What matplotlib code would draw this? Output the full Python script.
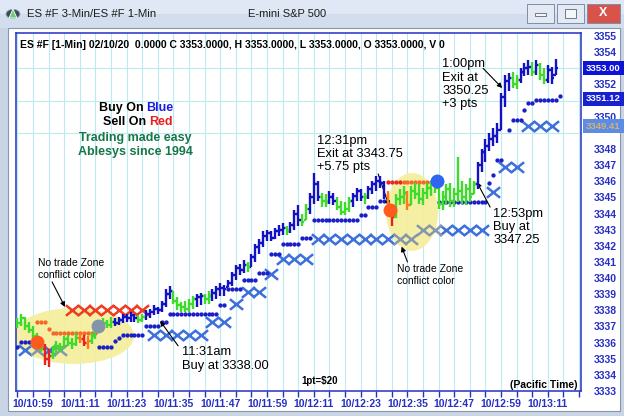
import matplotlib
matplotlib.use('Agg')
import matplotlib.pyplot as plt
import matplotlib.transforms as mtransforms
from matplotlib.patches import Ellipse, Rectangle, Circle, Polygon
from matplotlib.path import Path
import numpy as np

plt.rcParams['font.family'] = ['Liberation Sans', 'DejaVu Sans']

W, H = 624, 416

# ---- values, x = minutes after 10:59 ----
first_minute = -4
bar_high = [3337.5, 3337.8, 3337.6, 3337.3, 3337.0, 3336.6, 3336.2, 3335.9, 3335.6, 3335.8,
            3336.1, 3336.0, 3336.4, 3336.5, 3336.3, 3336.6, 3336.6, 3336.5, 3336.4, 3336.6,
            3337.0, 3337.3, 3337.5, 3337.4, 3337.6, 3337.5, 3337.6, 3337.8, 3337.8, 3337.9,
            3337.8, 3337.7, 3337.8, 3338.0, 3338.1, 3338.3, 3338.2, 3338.6, 3339.3, 3339.5,
            3339.2, 3338.8, 3338.5, 3338.6, 3338.7, 3338.9, 3339.0, 3339.1, 3339.0, 3339.2,
            3339.3, 3339.5, 3339.7, 3339.6, 3339.9, 3340.4, 3340.8, 3340.9, 3341.1, 3341.0,
            3341.5, 3342.1, 3342.4, 3342.9, 3343.0, 3342.9, 3343.1, 3343.3, 3343.4, 3343.2,
            3343.5, 3344.2, 3344.5, 3344.0, 3344.6, 3345.3, 3346.5, 3346.0, 3345.3, 3345.2,
            3345.4, 3345.3, 3345.0, 3344.8, 3344.7, 3345.0, 3345.3, 3345.6, 3345.5, 3345.3,
            3345.7, 3346.0, 3346.3, 3346.3, 3346.0, 3345.4, 3344.6, 3345.2, 3345.5, 3345.7,
            3345.4, 3345.7, 3345.9, 3345.8, 3345.6, 3345.9, 3346.0, 3346.0, 3345.7, 3345.4,
            3345.8, 3345.9, 3345.6, 3347.5, 3346.0, 3345.8, 3346.2, 3346.0, 3347.2, 3348.0,
            3348.6, 3349.0, 3349.3, 3349.6, 3351.5, 3352.6, 3352.7, 3352.8, 3352.6, 3353.0,
            3353.3, 3353.5, 3353.4, 3353.5, 3353.3, 3353.0, 3353.2, 3353.1, 3353.6]
bar_low = [3336.9, 3337.0, 3336.8, 3336.6, 3336.2, 3335.8, 3335.4, 3334.6, 3334.5, 3335.0,
           3335.3, 3335.4, 3335.6, 3335.8, 3335.6, 3335.8, 3336.0, 3335.8, 3335.6, 3335.9,
           3336.2, 3336.6, 3336.8, 3336.9, 3336.9, 3337.0, 3337.1, 3337.2, 3337.3, 3337.3,
           3337.3, 3337.2, 3337.3, 3337.4, 3337.5, 3337.7, 3337.8, 3337.9, 3338.2, 3338.7,
           3338.4, 3338.0, 3337.9, 3337.9, 3337.9, 3338.1, 3338.2, 3338.3, 3338.4, 3338.4,
           3338.6, 3338.7, 3338.9, 3338.9, 3339.45, 3339.5, 3339.9, 3340.2, 3340.3, 3340.4,
           3340.7, 3341.0, 3341.5, 3341.9, 3342.3, 3342.3, 3342.4, 3342.6, 3342.7, 3342.7,
           3342.8, 3343.0, 3343.2, 3343.2, 3343.6, 3344.0, 3344.6, 3344.8, 3344.4, 3344.4,
           3344.6, 3344.5, 3344.2, 3343.9, 3343.9, 3344.1, 3344.4, 3344.8, 3344.8, 3344.6,
           3344.9, 3345.2, 3345.4, 3345.6, 3344.9, 3344.2, 3343.2, 3343.7, 3344.5, 3344.6,
           3344.2, 3344.5, 3344.9, 3344.6, 3344.5, 3344.9, 3345.1, 3345.3, 3344.3, 3344.2,
           3344.5, 3344.4, 3344.4, 3344.7, 3344.6, 3344.5, 3344.7, 3345.2, 3345.5, 3346.6,
           3347.2, 3347.9, 3348.2, 3348.4, 3349.2, 3350.6, 3351.6, 3351.8, 3351.7, 3352.1,
           3352.5, 3352.6, 3352.5, 3352.6, 3352.3, 3352.0, 3352.1, 3352.0, 3352.6]
bar_close = [3337.2, 3337.5, 3337.0, 3336.8, 3336.4, 3336.0, 3335.6, 3335.0, 3335.2, 3335.6,
             3335.8, 3335.7, 3336.2, 3336.0, 3335.9, 3336.3, 3336.2, 3336.0, 3336.1, 3336.4,
             3336.8, 3337.0, 3337.2, 3337.1, 3337.3, 3337.2, 3337.4, 3337.6, 3337.5, 3337.7,
             3337.5, 3337.4, 3337.6, 3337.8, 3337.9, 3338.1, 3338.0, 3338.4, 3339.0, 3339.2,
             3338.6, 3338.3, 3338.2, 3338.1, 3338.4, 3338.7, 3338.8, 3338.9, 3338.7, 3338.9,
             3339.1, 3339.3, 3339.4, 3339.3, 3339.7, 3340.2, 3340.6, 3340.5, 3340.8, 3340.7,
             3341.3, 3341.9, 3342.2, 3342.6, 3342.8, 3342.5, 3342.9, 3343.0, 3343.1, 3342.9,
             3343.3, 3344.0, 3343.6, 3343.5, 3344.3, 3345.0, 3345.8, 3345.0, 3344.8, 3344.7,
             3345.0, 3344.8, 3344.4, 3344.1, 3344.3, 3344.8, 3345.1, 3345.4, 3345.0, 3345.0,
             3345.5, 3345.8, 3346.0, 3345.9, 3345.1, 3344.3, 3343.8, 3344.9, 3345.0, 3345.3,
             3344.5, 3345.4, 3345.2, 3344.9, 3345.3, 3345.6, 3345.8, 3345.6, 3344.6, 3345.0,
             3345.5, 3344.8, 3345.2, 3345.4, 3345.0, 3345.5, 3345.0, 3345.8, 3347.0, 3347.8,
             3348.2, 3348.6, 3348.8, 3349.2, 3351.2, 3352.2, 3352.4, 3352.0, 3352.3, 3352.8,
             3353.0, 3353.1, 3352.8, 3353.2, 3352.6, 3352.3, 3352.9, 3352.4, 3353.0]
# b = blue, g = green, r = red, o = orange
bar_color = ("gggggggrrg" "ggggggorog" "gggggbbbbb" "bggbbbbbbb" "ggggggbbgg"
             "bbbbbbbbbg" "bbbbbbbbbg" "bbbggbbbgg" "bbggggbbbg" "bbbbborggg"
             "oggggggggg" "ggggggggbb" "bbbbbbbggb" "bbgbggbbb")

# dotted stop lines: (first minute, last minute, price)
blue_stop_runs = [(-4, -4, 3335.7), (-3, -1, 3336.05), (17, 20, 3335.75), (21, 21, 3336.1),
                  (22, 22, 3336.3), (23, 28, 3336.5), (29, 32, 3337.0), (33, 34, 3337.3),
                  (35, 47, 3337.8), (48, 49, 3338.3), (50, 53, 3339.35), (54, 57, 3339.9),
                  (58, 60, 3340.3), (61, 63, 3341.5), (64, 68, 3342.1), (69, 71, 3342.5),
                  (72, 83, 3343.6), (84, 85, 3343.9), (86, 88, 3344.4), (89, 90, 3344.75),
                  (104, 116, 3344.7), (117, 117, 3345.9), (118, 118, 3346.4), (119, 120, 3347.3),
                  (122, 122, 3349.2), (123, 125, 3349.8), (126, 126, 3350.4), (127, 128, 3350.85),
                  (129, 134, 3351.05), (135, 135, 3351.3)]
red_stop_runs = [(1, 3, 3337.25, 'o'), (4, 4, 3336.85, 'o'), (5, 16, 3336.6, 'o'),
                 (91, 94, 3345.95, 'r'), (95, 103, 3345.95, 'o')]

# 3-minute X markers
x3_minute = [-2, 1, 4, 7, 10, 13, 16, 19, 22, 25, 28, 31, 34, 37, 40, 43, 46, 49, 52, 55,
             58, 61, 64, 67, 70, 73, 76, 79, 82, 85, 88, 91, 94, 97, 100, 103, 106, 109, 112, 115,
             118, 121, 124, 127, 130, 133]
x3_price = [3335.55, 3335.55, 3335.55, 3335.55, 3338.0, 3338.0, 3338.0, 3338.0, 3338.0, 3338.0,
            3338.0, 3336.5, 3336.5, 3336.5, 3336.5, 3336.5, 3337.3, 3337.3, 3338.4, 3339.15,
            3339.15, 3340.25, 3341.2, 3341.2, 3341.2, 3342.45, 3342.45, 3342.45, 3342.45, 3342.45,
            3342.45, 3342.45, 3342.45, 3342.45, 3343.0, 3343.0, 3343.0, 3343.0, 3343.0, 3343.0,
            3345.35, 3346.9, 3346.9, 3349.4, 3349.4, 3349.4]
x3_color = "bkbkrrrrrrrbbbbbbbbbbbbbbbbbbbbbkkkkbbbbbbbbbb"

signal_minute = [1, 16.6, 91.5, 103.5]
signal_price = [3336.05, 3337.0, 3344.2, 3346.0]
signal_color = ['#ff5a1e', '#8294ac', '#ff5a1e', '#2f66f0']

tick_minute = list(range(0, 133, 12))
tick_label = ['10/10:59', '10/11:11', '10/11:23', '10/11:35', '10/11:47', '10/11:59',
              '10/12:11', '10/12:23', '10/12:35', '10/12:47', '10/12:59', '10/13:11']
# 3349, 3351 and 3353 sit under the last-value boxes
price_ticks = [p for p in range(3333, 3356) if p not in (3349, 3351, 3353)]

# ---- colours ----
bar_rgb = {'b': '#1212c4', 'g': '#3ddc2a', 'r': '#ea2020', 'o': '#ff7a18'}
x_rgb = {'b': '#3d70dc', 'k': '#8797ab', 'r': '#f03a22'}
dot_rgb = {'o': '#f26a28', 'r': '#e42a20'}
axis_blue = '#2630c4'
grid_cyan = '#b9ebef'


def fx(x):
    return x / W


def fy(y):
    return 1 - y / H


fig = plt.figure(figsize=(W / 100, H / 100), dpi=100, facecolor='#c9d5e4')

# window chrome (kept below the axes)
fig.patches.append(Rectangle((0, fy(14)), 1, 14 / H, transform=fig.transFigure,
                             facecolor='#dfe8f4', edgecolor='none', zorder=-3))
fig.patches.append(Rectangle((0, fy(28)), 1, 14 / H, transform=fig.transFigure,
                             facecolor='#d2deee', edgecolor='none', zorder=-3))
fig.patches.append(Rectangle((fx(8), fy(411)), (620 - 8) / W, (411 - 28) / H,
                             transform=fig.transFigure, facecolor='white',
                             edgecolor='#8897ad', lw=0.8, zorder=-2))
fig.patches.append(Circle((fx(13), fy(14)), 7 / W, transform=fig.transFigure,
                          facecolor='#3c4a5c', edgecolor='#9aa8b8', lw=0.6, zorder=1))
fig.patches.append(Polygon([(fx(9), fy(18)), (fx(17), fy(18)), (fx(13), fy(9))],
                           transform=fig.transFigure, facecolor='#6fd070',
                           edgecolor='white', lw=0.6, zorder=2))
fig.text(fx(27), fy(14), 'ES #F 3-Min/ES #F 1-Min', fontsize=8.2, va='center', color='#1b1b1b')
fig.text(fx(248), fy(14), 'E-mini S&P 500', fontsize=8, va='center', color='#1b1b1b')
for x0, x1, fc in [(527, 554, '#e3eaf4'), (557, 584, '#e3eaf4'), (587, 620, '#d8544a')]:
    fig.patches.append(Rectangle((fx(x0), fy(23)), (x1 - x0) / W, 19 / H,
                                 transform=fig.transFigure, facecolor=fc,
                                 edgecolor='#7f8ea4', lw=0.7, zorder=1))
fig.patches.append(Rectangle((fx(535), fy(16)), 11 / W, 3 / H, transform=fig.transFigure,
                             facecolor='#f4f6fa', edgecolor='#5a6678', lw=0.6, zorder=2))
fig.patches.append(Rectangle((fx(565), fy(18)), 11 / W, 9 / H, transform=fig.transFigure,
                             facecolor='#f4f6fa', edgecolor='#5a6678', lw=0.6, zorder=2))
fig.text(fx(603.5), fy(13.5), 'X', fontsize=9, weight='bold', color='white',
         ha='center', va='center')

ax = fig.add_axes([fx(16), fy(391), (581 - 16) / W, (391 - 33) / H])
ax.set_xlim(-4.36, 140.5)
ax.set_ylim(3333.0, 3355.19)
ax.set_facecolor('white')
for s in ax.spines.values():
    s.set_color(axis_blue)
    s.set_linewidth(1.1)

ax.set_xticks(range(-4, 141, 4), minor=True)
ax.set_xticks(tick_minute)
ax.set_xticklabels(tick_label)
ax.set_yticks(price_ticks)
ax.set_yticklabels([str(p) for p in price_ticks])
ax.tick_params(axis='x', which='both', direction='out', length=4, width=1, color=axis_blue,
               labelsize=7.5, labelcolor=axis_blue, pad=2)
ax.tick_params(axis='y', left=False, labelleft=False, right=False, labelright=True,
               labelsize=7.5, labelcolor=axis_blue, pad=5.5)
for lab in ax.get_xticklabels() + ax.get_yticklabels():
    lab.set_fontweight('bold')
ax.grid(True, which='both', axis='x', color=grid_cyan, lw=0.8)
ax.set_yticks(range(3333, 3356), minor=True)
ax.grid(True, which='minor', axis='y', color=grid_cyan, lw=0.8)
ax.tick_params(axis='y', which='minor', right=False, left=False)
ax.set_axisbelow(True)

# no-trade zones
ax.add_patch(Ellipse((10.5, 3336.41), 30.8, 3.47, facecolor='#f5ee9c', edgecolor='none',
                     alpha=0.92, zorder=1.5))
ax.add_patch(Ellipse((97.2, 3344.1), 13.3, 4.83, facecolor='#f5ee9c', edgecolor='none',
                     alpha=0.92, zorder=1.5))

# 3-minute X markers
xmark = Path([(-1.25, -1), (1.25, 1), (-1.25, 1), (1.25, -1)],
             [Path.MOVETO, Path.LINETO, Path.MOVETO, Path.LINETO])
for code, col in x_rgb.items():
    mm = [m for m, c in zip(x3_minute, x3_color) if c == code]
    pp = [p for p, c in zip(x3_price, x3_color) if c == code]
    ax.plot(mm, pp, ls='none', marker=xmark, ms=9.5, mew=1.8, mec=col, mfc='none', zorder=2)

# dotted stop lines
bm, bp = [], []
for a, b, p in blue_stop_runs:
    for m in range(a, b + 1):
        bm.append(m)
        bp.append(p)
ax.plot(bm, bp, ls='none', marker='o', ms=3.1, color='#1a20c6', mec='none', zorder=3)
for a, b, p, code in red_stop_runs:
    mm = list(range(a, b + 1))
    ax.plot(mm, [p] * len(mm), ls='none', marker='o', ms=3.1, color=dot_rgb[code],
            mec='none', zorder=3)

# 1-min OHLC bars
bar_min = np.arange(first_minute, first_minute + len(bar_high))
bar_open = [bar_close[0]] + bar_close[:-1]
bar_open = [min(max(o, l), h) for o, l, h in zip(bar_open, bar_low, bar_high)]
cols = [bar_rgb[c] for c in bar_color]
ax.vlines(bar_min, bar_low, bar_high, colors=cols, lw=1.7, zorder=4)
ax.hlines(bar_open, bar_min - 0.6, bar_min, colors=cols, lw=1.7, zorder=4)
ax.hlines(bar_close, bar_min, bar_min + 0.6, colors=cols, lw=1.7, zorder=4)

# signal circles
for m, p, c in zip(signal_minute, signal_price, signal_color):
    ax.plot(m, p, marker='o', ms=9, color=c, mec=c, zorder=5)

# annotations
arrow = dict(arrowstyle='-|>', color='black', lw=0.8, mutation_scale=7, shrinkA=0, shrinkB=0)
ax.text(1.3, 3340.56, 'No trade Zone\nconflict color', fontsize=7.5, va='center',
        linespacing=1.3)
ax.annotate('', xy=(8.2, 3338.21), xytext=(4.9, 3339.76), arrowprops=arrow)
ax.text(38.2, 3334.99, '11:31am\nBuy at 3338.00', fontsize=9.3, va='center', linespacing=1.15)
ax.annotate('', xy=(32.6, 3337.34), xytext=(37.2, 3335.8), arrowprops=arrow)
ax.text(72.8, 3347.69, '12:31pm\nExit at 3343.75\n+5.75 pts', fontsize=9.3, va='center',
        linespacing=1.15)
ax.annotate('', xy=(91.3, 3344.47), xytext=(88.5, 3346.45), arrowprops=arrow)
ax.text(93.3, 3340.19, 'No trade Zone\nconflict color', fontsize=7.5, va='center',
        linespacing=1.3)
ax.annotate('', xy=(94.5, 3341.95), xytext=(96.0, 3341.0), arrowprops=arrow)
ax.text(118.0, 3343.17, '12:53pm\nBuy at\n3347.25', fontsize=9.3, va='center', linespacing=1.15)
ax.annotate('', xy=(113.8, 3345.95), xytext=(117.2, 3344.4), arrowprops=arrow)
ax.text(104.9, 3352.0, '1:00pm\nExit at\n3350.25\n+3 pts', fontsize=9.3, va='center',
        linespacing=1.15)
ax.annotate('', xy=(120.3, 3351.78), xytext=(115.4, 3353.0), arrowprops=arrow)

# legend text block
fig.text(fx(143.5), fy(108), 'Buy On', fontsize=9, weight='bold', ha='right', va='center')
fig.text(fx(146.5), fy(108), 'Blue', fontsize=9, weight='bold', ha='left', va='center',
         color='#1c1ce0')
fig.text(fx(146), fy(122), 'Sell On', fontsize=9, weight='bold', ha='right', va='center')
fig.text(fx(149), fy(122), 'Red', fontsize=9, weight='bold', ha='left', va='center',
         color='#ee1c1c')
fig.text(fx(135.8), fy(138), 'Trading made easy', fontsize=9, weight='bold', ha='center',
         va='center', color='#16784a')
fig.text(fx(135.8), fy(152), 'Ablesys since 1994', fontsize=9, weight='bold', ha='center',
         va='center', color='#16784a')

fig.text(fx(20), fy(45), 'ES #F [1-Min] 02/10/20  0.0000 C 3353.0000, H 3353.0000, '
         'L 3353.0000, O 3353.0000, V 0', fontsize=7.5, weight='bold', va='center')
fig.text(fx(320), fy(381), '1pt=$20', fontsize=7, weight='bold', ha='center', va='center')
fig.text(fx(578), fy(385), '(Pacific Time)', fontsize=7.5, weight='bold', ha='right',
         va='center')

# last-value boxes on the price scale
blend = mtransforms.blended_transform_factory(ax.transAxes, ax.transData)
for price, txt, fc, tc in [(3353.0, '3353.00', '#0c12d6', 'white'),
                           (3351.12, '3351.12', '#1622d2', 'white'),
                           (3349.41, '3349.41', '#5b8de6', '#d6b070')]:
    ax.add_patch(Rectangle((1.0035, price - 0.44), 0.2, 0.88, transform=blend,
                           facecolor=fc, edgecolor='none', clip_on=False, zorder=6))
    fig.text(fx(603), fy(36 + (3355 - price) * 16.14), txt, fontsize=6.8, weight='bold',
             color=tc, va='center', ha='center', zorder=7)

fig.savefig('out.png', dpi=100, facecolor=fig.get_facecolor())
